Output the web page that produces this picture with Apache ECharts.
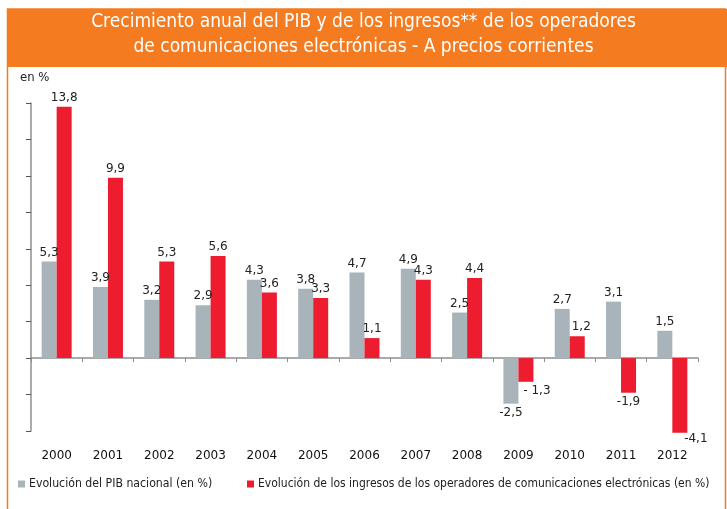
<!DOCTYPE html>
<html>
<head>
<meta charset="utf-8">
<script src="https://cdn.jsdelivr.net/npm/echarts@6/dist/echarts.min.js"></script>
<style>
  html, body { margin: 0; padding: 0; background: #fff; }
  #chart { width: 727px; height: 509px; }
</style>
</head>
<body>
<div id="chart"></div>
<script>
// data
const years = ['2000', '2001', '2002', '2003', '2004', '2005', '2006', '2007', '2008', '2009', '2010', '2011', '2012'];
const pibValues = [5.3, 3.9, 3.2, 2.9, 4.3, 3.8, 4.7, 4.9, 2.5, -2.5, 2.7, 3.1, 1.5];
const ingresosValues = [13.8, 9.9, 5.3, 5.6, 3.6, 3.3, 1.1, 4.3, 4.4, -1.3, 1.2, -1.9, -4.1];
const pibName = 'Evolución del PIB nacional (en %)';
const ingresosName = 'Evolución de los ingresos de los operadores de comunicaciones electrónicas (en %)';
const titleLines = [
    'Crecimiento anual del PIB y de los ingresos** de los operadores',
    'de comunicaciones electrónicas - A precios corrientes'
];

const ORANGE = '#F47B20';
const GRAY = '#A8B4BA';
const RED = '#ED1C2E';
const AXIS = '#8f8f8f';
const condensed = '"DejaVu Sans Condensed", "DejaVu Sans", sans-serif';

// a few labels sit beside the bar in the original
const redLabelOffset = { 9: [11, 0], 10: [4, 0], 12: [16, -3] };

function fmt(v) {
    return String(v).replace('.', ',');
}

function buildData(values, offsets) {
    return values.map((v, i) => ({
        value: v,
        label: {
            position: v < 0 ? 'bottom' : 'top',
            offset: (offsets && offsets[i]) || [0, 0]
        }
    }));
}

const titleStyle = {
    color: '#fff',
    fontFamily: condensed,
    fontSize: 19,
    fontWeight: 'normal'
};

const chart = echarts.init(document.getElementById('chart'));

chart.setOption({
    animation: false,
    backgroundColor: '#fff',
    graphic: [
        {
            type: 'rect',
            shape: { x: 7, y: 9, width: 720, height: 58 },
            style: { fill: ORANGE },
            z: -10
        },
        {
            type: 'rect',
            shape: { x: 7.5, y: 9, width: 718, height: 540 },
            style: { fill: null, stroke: ORANGE, lineWidth: 1.5 },
            z: -10
        }
    ],
    title: [
        {
            text: titleLines[0],
            left: 'center',
            top: 13,
            padding: 0,
            textStyle: titleStyle
        },
        {
            text: titleLines[1],
            left: 'center',
            top: 38,
            padding: 0,
            textStyle: titleStyle
        },
        {
            text: 'en %',
            left: 20,
            top: 71,
            padding: 0,
            textStyle: {
                color: '#222',
                fontFamily: condensed,
                fontSize: 13,
                fontWeight: 'normal'
            }
        }
    ],
    legend: [
        {
            data: [pibName],
            left: 18,
            top: 478,
            padding: 0,
            icon: 'rect',
            itemWidth: 7,
            itemHeight: 7,
            textStyle: { color: '#222', fontFamily: condensed, fontSize: 12.2, padding: [0, 0, 0, -1] }
        },
        {
            data: [ingresosName],
            left: 247,
            top: 478,
            padding: 0,
            icon: 'rect',
            itemWidth: 7,
            itemHeight: 7,
            textStyle: { color: '#222', fontFamily: condensed, fontSize: 12, padding: [0, 0, 0, -1] }
        }
    ],
    grid: {
        left: 31,
        top: 103,
        width: 667,
        height: 328,
        containLabel: false
    },
    xAxis: [
        {
            type: 'category',
            data: years,
            axisLine: { onZero: true, lineStyle: { color: AXIS, width: 1.5 } },
            axisTick: { show: true, length: 4, lineStyle: { color: AXIS } },
            axisLabel: { show: false },
            splitLine: { show: false }
        },
        {
            type: 'category',
            data: years,
            position: 'bottom',
            axisLine: { show: false, onZero: false },
            axisTick: { show: false },
            axisLabel: {
                margin: 19,
                color: '#111',
                fontFamily: '"DejaVu Sans", sans-serif',
                fontSize: 12
            },
            splitLine: { show: false }
        }
    ],
    yAxis: {
        type: 'value',
        min: -4,
        max: 14,
        interval: 2,
        axisLine: { show: true, lineStyle: { color: AXIS, width: 1.5 } },
        axisTick: { show: true, length: 5, lineStyle: { color: '#555' } },
        axisLabel: { show: false },
        splitLine: { show: false }
    },
    series: [
        {
            name: pibName,
            type: 'bar',
            xAxisIndex: 0,
            barWidth: 15,
            barGap: '0%',
            clip: false,
            itemStyle: { color: GRAY },
            label: {
                show: true,
                distance: 3,
                color: '#222',
                fontFamily: '"DejaVu Sans", sans-serif',
                fontSize: 12,
                formatter: p => fmt(p.value)
            },
            data: buildData(pibValues)
        },
        {
            name: ingresosName,
            type: 'bar',
            xAxisIndex: 0,
            barWidth: 15,
            barGap: '0%',
            clip: false,
            itemStyle: { color: RED },
            label: {
                show: true,
                distance: 3,
                color: '#222',
                fontFamily: '"DejaVu Sans", sans-serif',
                fontSize: 12,
                formatter: p => (p.dataIndex === 9 ? fmt(p.value).replace('-', '- ') : fmt(p.value))
            },
            data: buildData(ingresosValues, redLabelOffset)
        }
    ]
});
</script>
</body>
</html>
